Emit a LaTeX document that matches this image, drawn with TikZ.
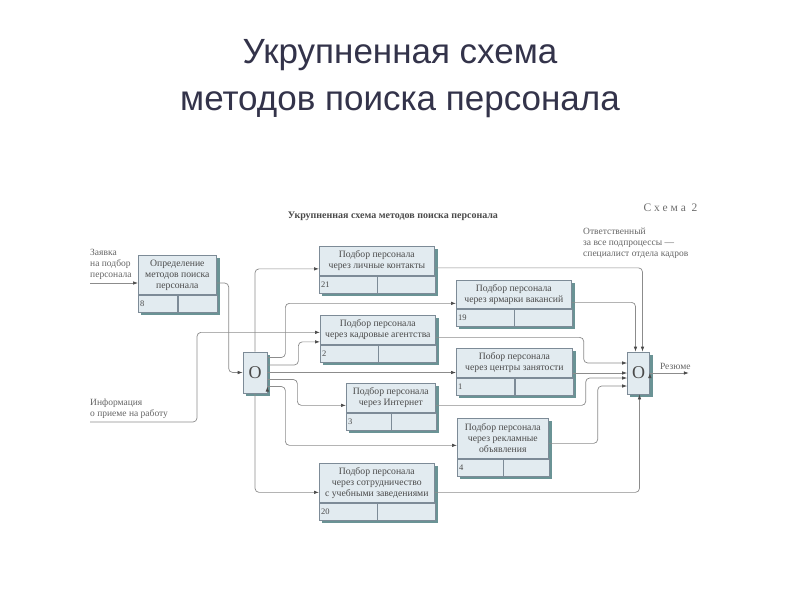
\documentclass[tikz,border=0pt]{standalone}
\usepackage{fontspec}
\setmainfont{Liberation Serif}
\newfontfamily\titlefont{Liberation Sans}
\usetikzlibrary{arrows.meta}
\usetikzlibrary{calc}
\pgfdeclarelayer{background}
\pgfsetlayers{background,main}

\definecolor{boxfill}{HTML}{E2EBF0}
\definecolor{boxline}{HTML}{7D8B97}
\definecolor{boxshade}{HTML}{6A9395}
\definecolor{wire}{HTML}{8C8C8C}
\definecolor{ink}{HTML}{4A4A4A}
\definecolor{headink}{HTML}{33334A}

\begin{document}
\begin{tikzpicture}[x=1pt, y=-1pt,
    proc/.style={draw=boxline, fill=boxfill, line width=0.7pt, anchor=north west, align=center, inner sep=1pt, text=ink, font=\fontsize{9.7}{11}\selectfont},
    numcell/.style={draw=boxline, fill=boxfill, line width=0.7pt, anchor=north west, minimum height=17pt, inner sep=0pt},
    numtxt/.style={anchor=west, inner sep=2pt, text=ink, font=\fontsize{8.5}{9}\selectfont},
    junc/.style={draw=boxline, fill=boxfill, line width=0.7pt, inner sep=0pt, text=ink, font=\fontsize{18}{18}\selectfont},
    lbl/.style={align=left, inner sep=0pt, text=ink!85, font=\fontsize{9.5}{11}\selectfont},
    flow/.style={draw=wire, line width=0.7pt, rounded corners=4pt, -{Latex[length=5pt,width=3.5pt,color=ink]}},
    jog/.style={to path={-- ++(#1,0) |- (\tikztotarget)}},
    hv/.style={to path={-| (\tikztotarget)}},
    vh/.style={to path={|- (\tikztotarget)}}]
    \useasboundingbox (0,0) rectangle (800,600);

    \node[font=\titlefont\fontsize{35}{47}\selectfont, text=headink, align=center] (title) at (400,79) {Укрупненная схема\\методов поиска персонала};

    \node[font=\bfseries\fontsize{10}{11}\selectfont, text=ink] (head) at (393,216) {Укрупненная схема методов поиска персонала};
    \node[font=\fontsize{11.5}{12}\selectfont, text=ink!80, anchor=east] (schema) at (701,208) {С х е м а \ 2};
    \node[lbl, anchor=north west] (resp) at (583,228) {Ответственный\\за все подпроцессы —\\специалист отдела кадров};

    % boxes: number / x / y / width / height / text
    \foreach \n/\x/\y/\w/\h/\t in {
        8/138/255/78/39/{Определение\\методов поиска\\персонала},
        21/319/246/115/29/{Подбор персонала\\через личные контакты},
        19/456/280/115/28/{Подбор персонала\\через ярмарки вакансий},
        2/320/315/115/29/{Подбор персонала\\через кадровые агентства},
        1/456/348/116/29/{Побор персонала\\через центры занятости},
        3/346/383/89/29/{Подбор персонала\\через Интернет},
        4/457/418/91/40/{Подбор персонала\\через рекламные\\объявления},
        20/319/463/115/39/{Подбор персонала\\через сотрудничество\\с учебными заведениями}}
    {
        \node[proc, minimum width=\w, minimum height=\h] (p\n) at (\x,\y) {\t};
        \node[numcell, minimum width=\w/2] (p\n-n) at (p\n.south west) {};
        \node[numcell, minimum width=\w/2] (p\n-e) at (p\n-n.north east) {};
        \node[numtxt] (p\n-t) at (p\n-n.west) {\n};
    }

    \node[junc, minimum width=24, minimum height=41] (jl) at (255,372.5) {O};
    \node[junc, minimum width=22, minimum height=42] (jr) at (638.5,373) {O};

    \coordinate (zin) at (90,283);
    \coordinate (iin) at (90,422);
    \coordinate (rout) at ([xshift=39pt]jr.east);

    \node[lbl, anchor=south west] (zlbl) at ([yshift=3pt]zin) {Заявка\\на подбор\\персонала};
    \node[lbl, anchor=south west] (ilbl) at ([yshift=3pt]iin) {Информация\\о приеме на работу};
    \node[lbl, anchor=south west] (rez) at ([xshift=10pt,yshift=3pt]jr.east) {Резюме};

    \path[flow]
      (zin) edge (zin -| p8.west)
      (zin -| p8.east) edge[jog=12] (jl.west)
      (iin) edge[jog=107] ([yshift=-2.5pt]p2.west)
      (jl.north) edge[vh] ([yshift=-8pt]p21.west)
      (jl.south) edge[vh] ([yshift=-9.5pt]p20.west)
      ([yshift=15pt]jl.east) edge[jog=18] ([yshift=-9pt]p19.west)
      ([yshift=7.5pt]jl.east) edge[jog=31] ([yshift=-12pt]p2.west)
      (jl.east) edge (jl.east -| p1.west)
      ([yshift=-7pt]jl.east) edge[jog=30] ([yshift=-7.5pt]p3.west)
      ([yshift=-14pt]jl.east) edge[jog=18] ([yshift=-7pt]p4.west);
    \path[flow]
      ([yshift=-7pt]p21.east) edge[hv] ([xshift=4pt]jr.north)
      ([yshift=-8pt]p19.east) edge[hv] ([xshift=-3pt]jr.north)
      ([yshift=-7.5pt]p2.east) edge[jog=148] ([yshift=10pt]jr.west)
      (p1.east |- jr.west) edge (jr.west)
      ([yshift=-7.5pt]p3.east) edge[jog=150] ([yshift=-5pt]jr.west)
      ([yshift=-5pt]p4.east) edge[jog=49] ([yshift=-13pt]jr.west)
      ([yshift=-9.5pt]p20.east) edge[hv] ([xshift=1pt]jr.south)
      (jr.east) edge (rout);

    \begin{pgfonlayer}{background}
      \fill[white] (0,0) rectangle (800,600);
      \foreach \n in {8,21,19,2,1,3,4,20}
        \fill[boxshade] ([shift={(3,3)}]p\n.north west) rectangle ([shift={(3,3)}]p\n-e.south east);
      \foreach \j in {jl,jr}
        \fill[boxshade] ([shift={(3,3)}]\j.north west) rectangle ([shift={(3,3)}]\j.south east);
    \end{pgfonlayer}
  \end{tikzpicture}
\end{document}
